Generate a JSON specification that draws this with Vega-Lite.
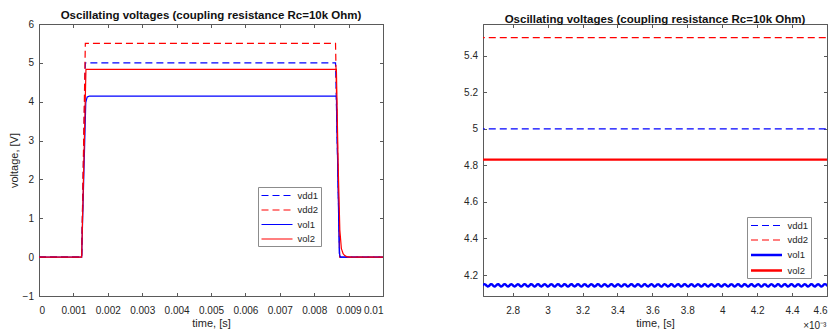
{
  "$schema": "https://vega.github.io/schema/vega-lite/v6.json",
  "background": "white",
  "padding": {"left": 7, "top": 9, "right": 0, "bottom": 0},
  "autosize": {"type": "pad"},
  "config": {
    "font": "Liberation Sans",
    "view": {"stroke": "#5a5a5a", "strokeWidth": 1},
    "axis": {
      "grid": false,
      "minExtent": 0,
      "domainColor": "#5a5a5a",
      "tickColor": "#5a5a5a",
      "tickSize": -3.5,
      "labelColor": "#262626",
      "labelFontSize": 10,
      "labelFont": "Liberation Sans",
      "titleColor": "#262626",
      "titleFontSize": 11,
      "titleFontWeight": "normal",
      "titleFont": "Liberation Sans"
    },
    "axisX": {"minExtent": 0, "labelPadding": 13, "titlePadding": 2},
    "axisY": {"minExtent": 0, "labelPadding": 9, "titlePadding": 3},
    "title": {"fontSize": 11.5, "fontWeight": "bold", "color": "#111111", "offset": -2, "font": "Liberation Sans"},
    "legend": {
      "title": null,
      "fillColor": "white",
      "strokeColor": "#8c8c8c",
      "padding": 2.5,
      "labelFontSize": 9.5,
      "labelColor": "#262626",
      "labelFont": "Liberation Sans",
      "symbolType": "M-1,0H5.2",
      "symbolSize": 100,
      "rowPadding": 3.5,
      "labelOffset": 25
    }
  },
  "datasets": {
    "full": [
      {"series": "vdd1", "time": 0, "voltage": 0},
      {"series": "vdd1", "time": 0.00124, "voltage": 0},
      {"series": "vdd1", "time": 0.001347, "voltage": 5},
      {"series": "vdd1", "time": 0.00862, "voltage": 5},
      {"series": "vdd1", "time": 0.00874, "voltage": 0},
      {"series": "vdd1", "time": 0.01, "voltage": 0},
      {"series": "vdd2", "time": 0, "voltage": 0},
      {"series": "vdd2", "time": 0.00124, "voltage": 0},
      {"series": "vdd2", "time": 0.001347, "voltage": 5.5},
      {"series": "vdd2", "time": 0.00862, "voltage": 5.5},
      {"series": "vdd2", "time": 0.00874, "voltage": 0},
      {"series": "vdd2", "time": 0.01, "voltage": 0},
      {"series": "vol1", "time": 0, "voltage": 0},
      {"series": "vol1", "time": 0.00124, "voltage": 0},
      {"series": "vol1", "time": 0.00136, "voltage": 3.98},
      {"series": "vol1", "time": 0.0014, "voltage": 4.12},
      {"series": "vol1", "time": 0.00146, "voltage": 4.143},
      {"series": "vol1", "time": 0.008645, "voltage": 4.143},
      {"series": "vol1", "time": 0.00873, "voltage": 0.1},
      {"series": "vol1", "time": 0.00876, "voltage": 0},
      {"series": "vol1", "time": 0.01, "voltage": 0},
      {"series": "vol2", "time": 0, "voltage": 0},
      {"series": "vol2", "time": 0.00124, "voltage": 0},
      {"series": "vol2", "time": 0.001365, "voltage": 4.83},
      {"series": "vol2", "time": 0.008645, "voltage": 4.832},
      {"series": "vol2", "time": 0.008695, "voltage": 2.42},
      {"series": "vol2", "time": 0.008745, "voltage": 0.7},
      {"series": "vol2", "time": 0.00879, "voltage": 0.22},
      {"series": "vol2", "time": 0.00884, "voltage": 0.09},
      {"series": "vol2", "time": 0.00889, "voltage": 0.04},
      {"series": "vol2", "time": 0.00896, "voltage": 0.01},
      {"series": "vol2", "time": 0.00905, "voltage": 0},
      {"series": "vol2", "time": 0.01, "voltage": 0}
    ],
    "zoom": [
      {"series": "vdd1", "time": 0.0026, "voltage": 5},
      {"series": "vdd1", "time": 0.0047, "voltage": 5},
      {"series": "vdd2", "time": 0.0026, "voltage": 5.5},
      {"series": "vdd2", "time": 0.0047, "voltage": 5.5},
      {"series": "vol2", "time": 0.0026, "voltage": 4.832},
      {"series": "vol2", "time": 0.0047, "voltage": 4.832},
      {"series": "vol1", "time": 0.0026200, "voltage": 4.137},
      {"series": "vol1", "time": 0.0026391, "voltage": 4.150},
      {"series": "vol1", "time": 0.0026582, "voltage": 4.137},
      {"series": "vol1", "time": 0.0026773, "voltage": 4.150},
      {"series": "vol1", "time": 0.0026964, "voltage": 4.137},
      {"series": "vol1", "time": 0.0027155, "voltage": 4.150},
      {"series": "vol1", "time": 0.0027346, "voltage": 4.137},
      {"series": "vol1", "time": 0.0027537, "voltage": 4.150},
      {"series": "vol1", "time": 0.0027728, "voltage": 4.137},
      {"series": "vol1", "time": 0.0027919, "voltage": 4.150},
      {"series": "vol1", "time": 0.0028110, "voltage": 4.137},
      {"series": "vol1", "time": 0.0028301, "voltage": 4.150},
      {"series": "vol1", "time": 0.0028492, "voltage": 4.137},
      {"series": "vol1", "time": 0.0028683, "voltage": 4.150},
      {"series": "vol1", "time": 0.0028874, "voltage": 4.137},
      {"series": "vol1", "time": 0.0029065, "voltage": 4.150},
      {"series": "vol1", "time": 0.0029256, "voltage": 4.137},
      {"series": "vol1", "time": 0.0029447, "voltage": 4.150},
      {"series": "vol1", "time": 0.0029638, "voltage": 4.137},
      {"series": "vol1", "time": 0.0029829, "voltage": 4.150},
      {"series": "vol1", "time": 0.0030020, "voltage": 4.137},
      {"series": "vol1", "time": 0.0030211, "voltage": 4.150},
      {"series": "vol1", "time": 0.0030402, "voltage": 4.137},
      {"series": "vol1", "time": 0.0030593, "voltage": 4.150},
      {"series": "vol1", "time": 0.0030784, "voltage": 4.137},
      {"series": "vol1", "time": 0.0030975, "voltage": 4.150},
      {"series": "vol1", "time": 0.0031166, "voltage": 4.137},
      {"series": "vol1", "time": 0.0031357, "voltage": 4.150},
      {"series": "vol1", "time": 0.0031548, "voltage": 4.137},
      {"series": "vol1", "time": 0.0031739, "voltage": 4.150},
      {"series": "vol1", "time": 0.0031930, "voltage": 4.137},
      {"series": "vol1", "time": 0.0032121, "voltage": 4.150},
      {"series": "vol1", "time": 0.0032312, "voltage": 4.137},
      {"series": "vol1", "time": 0.0032503, "voltage": 4.150},
      {"series": "vol1", "time": 0.0032694, "voltage": 4.137},
      {"series": "vol1", "time": 0.0032885, "voltage": 4.150},
      {"series": "vol1", "time": 0.0033076, "voltage": 4.137},
      {"series": "vol1", "time": 0.0033267, "voltage": 4.150},
      {"series": "vol1", "time": 0.0033458, "voltage": 4.137},
      {"series": "vol1", "time": 0.0033649, "voltage": 4.150},
      {"series": "vol1", "time": 0.0033840, "voltage": 4.137},
      {"series": "vol1", "time": 0.0034031, "voltage": 4.150},
      {"series": "vol1", "time": 0.0034222, "voltage": 4.137},
      {"series": "vol1", "time": 0.0034413, "voltage": 4.150},
      {"series": "vol1", "time": 0.0034604, "voltage": 4.137},
      {"series": "vol1", "time": 0.0034795, "voltage": 4.150},
      {"series": "vol1", "time": 0.0034986, "voltage": 4.137},
      {"series": "vol1", "time": 0.0035177, "voltage": 4.150},
      {"series": "vol1", "time": 0.0035368, "voltage": 4.137},
      {"series": "vol1", "time": 0.0035559, "voltage": 4.150},
      {"series": "vol1", "time": 0.0035750, "voltage": 4.137},
      {"series": "vol1", "time": 0.0035941, "voltage": 4.150},
      {"series": "vol1", "time": 0.0036132, "voltage": 4.137},
      {"series": "vol1", "time": 0.0036323, "voltage": 4.150},
      {"series": "vol1", "time": 0.0036514, "voltage": 4.137},
      {"series": "vol1", "time": 0.0036705, "voltage": 4.150},
      {"series": "vol1", "time": 0.0036896, "voltage": 4.137},
      {"series": "vol1", "time": 0.0037087, "voltage": 4.150},
      {"series": "vol1", "time": 0.0037278, "voltage": 4.137},
      {"series": "vol1", "time": 0.0037469, "voltage": 4.150},
      {"series": "vol1", "time": 0.0037660, "voltage": 4.137},
      {"series": "vol1", "time": 0.0037851, "voltage": 4.150},
      {"series": "vol1", "time": 0.0038042, "voltage": 4.137},
      {"series": "vol1", "time": 0.0038233, "voltage": 4.150},
      {"series": "vol1", "time": 0.0038424, "voltage": 4.137},
      {"series": "vol1", "time": 0.0038615, "voltage": 4.150},
      {"series": "vol1", "time": 0.0038806, "voltage": 4.137},
      {"series": "vol1", "time": 0.0038997, "voltage": 4.150},
      {"series": "vol1", "time": 0.0039188, "voltage": 4.137},
      {"series": "vol1", "time": 0.0039379, "voltage": 4.150},
      {"series": "vol1", "time": 0.0039570, "voltage": 4.137},
      {"series": "vol1", "time": 0.0039761, "voltage": 4.150},
      {"series": "vol1", "time": 0.0039952, "voltage": 4.137},
      {"series": "vol1", "time": 0.0040143, "voltage": 4.150},
      {"series": "vol1", "time": 0.0040334, "voltage": 4.137},
      {"series": "vol1", "time": 0.0040525, "voltage": 4.150},
      {"series": "vol1", "time": 0.0040716, "voltage": 4.137},
      {"series": "vol1", "time": 0.0040907, "voltage": 4.150},
      {"series": "vol1", "time": 0.0041098, "voltage": 4.137},
      {"series": "vol1", "time": 0.0041289, "voltage": 4.150},
      {"series": "vol1", "time": 0.0041480, "voltage": 4.137},
      {"series": "vol1", "time": 0.0041671, "voltage": 4.150},
      {"series": "vol1", "time": 0.0041862, "voltage": 4.137},
      {"series": "vol1", "time": 0.0042053, "voltage": 4.150},
      {"series": "vol1", "time": 0.0042244, "voltage": 4.137},
      {"series": "vol1", "time": 0.0042435, "voltage": 4.150},
      {"series": "vol1", "time": 0.0042626, "voltage": 4.137},
      {"series": "vol1", "time": 0.0042817, "voltage": 4.150},
      {"series": "vol1", "time": 0.0043008, "voltage": 4.137},
      {"series": "vol1", "time": 0.0043199, "voltage": 4.150},
      {"series": "vol1", "time": 0.0043390, "voltage": 4.137},
      {"series": "vol1", "time": 0.0043581, "voltage": 4.150},
      {"series": "vol1", "time": 0.0043772, "voltage": 4.137},
      {"series": "vol1", "time": 0.0043963, "voltage": 4.150},
      {"series": "vol1", "time": 0.0044154, "voltage": 4.137},
      {"series": "vol1", "time": 0.0044345, "voltage": 4.150},
      {"series": "vol1", "time": 0.0044536, "voltage": 4.137},
      {"series": "vol1", "time": 0.0044727, "voltage": 4.150},
      {"series": "vol1", "time": 0.0044918, "voltage": 4.137},
      {"series": "vol1", "time": 0.0045109, "voltage": 4.150},
      {"series": "vol1", "time": 0.0045300, "voltage": 4.137},
      {"series": "vol1", "time": 0.0045491, "voltage": 4.150},
      {"series": "vol1", "time": 0.0045682, "voltage": 4.137},
      {"series": "vol1", "time": 0.0045873, "voltage": 4.150},
      {"series": "vol1", "time": 0.0046064, "voltage": 4.137}
    ],
    "exponent": [
      {"time": 0.00453, "voltage": 3.905, "label": "×10⁻³"}
    ],
    "none": []
  },
  "bounds": "flush",
  "spacing": 100,
  "resolve": {
    "scale": {"color": "independent", "strokeDash": "independent", "strokeWidth": "independent"},
    "legend": {"color": "independent", "strokeDash": "independent", "strokeWidth": "independent"}
  },
  "hconcat": [
    {
      "width": 344,
      "height": 272,
      "title": "Oscillating voltages (coupling resistance Rc=10k Ohm)",
      "layer": [
        {
          "data": {"name": "full"},
          "mark": {"type": "line", "strokeWidth": 1.2, "clip": true},
          "encoding": {
            "x": {
              "field": "time", "type": "quantitative",
              "scale": {"domain": [0, 0.01], "nice": false, "zero": false},
              "axis": {"title": "time, [s]", "values": [0, 0.001, 0.002, 0.003, 0.004, 0.005, 0.006, 0.007, 0.008, 0.009, 0.01], "format": ".3~f"}
            },
            "y": {
              "field": "voltage", "type": "quantitative",
              "scale": {"domain": [-1, 6], "nice": false, "zero": false},
              "axis": {"title": "voltage, [V]", "values": [-1, 0, 1, 2, 3, 4, 5, 6], "format": "d"}
            },
            "color": {
              "field": "series", "type": "nominal",
              "scale": {"domain": ["vdd1", "vdd2", "vol1", "vol2"], "range": ["#0000ff", "#ff0000", "#0000ff", "#ff0000"]},
              "legend": {"orient": "none", "legendX": 219, "legendY": 163, "symbolStrokeWidth": 1.2}
            },
            "strokeDash": {
              "field": "series", "type": "nominal",
              "scale": {"domain": ["vdd1", "vdd2", "vol1", "vol2"], "range": [[7, 4], [7, 4], [1, 0], [1, 0]]},
              "legend": {"orient": "none", "legendX": 219, "legendY": 163, "symbolStrokeWidth": 1.2}
            }
          }
        },
        {
          "data": {"name": "none"},
          "mark": {"type": "point"},
          "encoding": {
            "x": {
              "field": "time", "type": "quantitative",
              "axis": {"orient": "top", "labels": false, "title": null, "values": [0, 0.001, 0.002, 0.003, 0.004, 0.005, 0.006, 0.007, 0.008, 0.009, 0.01]}
            },
            "y": {
              "field": "voltage", "type": "quantitative",
              "axis": {"orient": "right", "labels": false, "title": null, "values": [-1, 0, 1, 2, 3, 4, 5, 6]}
            }
          }
        }
      ],
      "resolve": {"axis": {"x": "independent", "y": "independent"}}
    },
    {
      "width": 344,
      "height": 272,
      "title": "Oscillating voltages (coupling resistance Rc=10k Ohm)",
      "layer": [
        {
          "data": {"name": "zoom"},
          "mark": {"type": "line", "clip": true, "interpolate": "monotone"},
          "encoding": {
            "x": {
              "field": "time", "type": "quantitative",
              "scale": {"domain": [0.00263, 0.0046], "nice": false, "zero": false},
              "axis": {"title": "time, [s]", "values": [0.0028, 0.003, 0.0032, 0.0034, 0.0036, 0.0038, 0.004, 0.0042, 0.0044, 0.0046], "labelExpr": "format(datum.value * 1000, '.1~f')"}
            },
            "y": {
              "field": "voltage", "type": "quantitative",
              "scale": {"domain": [4.085, 5.575], "nice": false, "zero": false},
              "axis": {"title": null, "values": [4.2, 4.4, 4.6, 4.8, 5, 5.2, 5.4], "labelExpr": "format(datum.value, '.1~f')"}
            },
            "color": {
              "field": "series", "type": "nominal",
              "scale": {"domain": ["vdd1", "vdd2", "vol1", "vol2"], "range": ["#0000ff", "#ff0000", "#0000ff", "#ff0000"]},
              "legend": {"orient": "none", "legendX": 264, "legendY": 193}
            },
            "strokeDash": {
              "field": "series", "type": "nominal",
              "scale": {"domain": ["vdd1", "vdd2", "vol1", "vol2"], "range": [[7, 4], [7, 4], [1, 0], [1, 0]]},
              "legend": {"orient": "none", "legendX": 264, "legendY": 193}
            },
            "strokeWidth": {
              "field": "series", "type": "nominal",
              "scale": {"type": "ordinal", "domain": ["vdd1", "vdd2", "vol1", "vol2"], "range": [1.2, 1.2, 2.4, 2.4]},
              "legend": {"orient": "none", "legendX": 264, "legendY": 193}
            }
          }
        },
        {
          "data": {"name": "none"},
          "mark": {"type": "point"},
          "encoding": {
            "x": {
              "field": "time", "type": "quantitative",
              "axis": {"orient": "top", "labels": false, "title": null, "values": [0.0028, 0.003, 0.0032, 0.0034, 0.0036, 0.0038, 0.004, 0.0042, 0.0044, 0.0046]}
            },
            "y": {
              "field": "voltage", "type": "quantitative",
              "axis": {"orient": "right", "labels": false, "title": null, "values": [4.2, 4.4, 4.6, 4.8, 5, 5.2, 5.4]}
            }
          }
        },
        {
          "data": {"name": "exponent"},
          "mark": {"type": "text", "fontSize": 10, "color": "#262626", "align": "center", "baseline": "alphabetic", "font": "Liberation Sans"},
          "encoding": {
            "x": {"field": "time", "type": "quantitative", "axis": null},
            "y": {"field": "voltage", "type": "quantitative", "axis": null},
            "text": {"field": "label"}
          }
        }
      ],
      "resolve": {"axis": {"x": "independent", "y": "independent"}}
    }
  ]
}
